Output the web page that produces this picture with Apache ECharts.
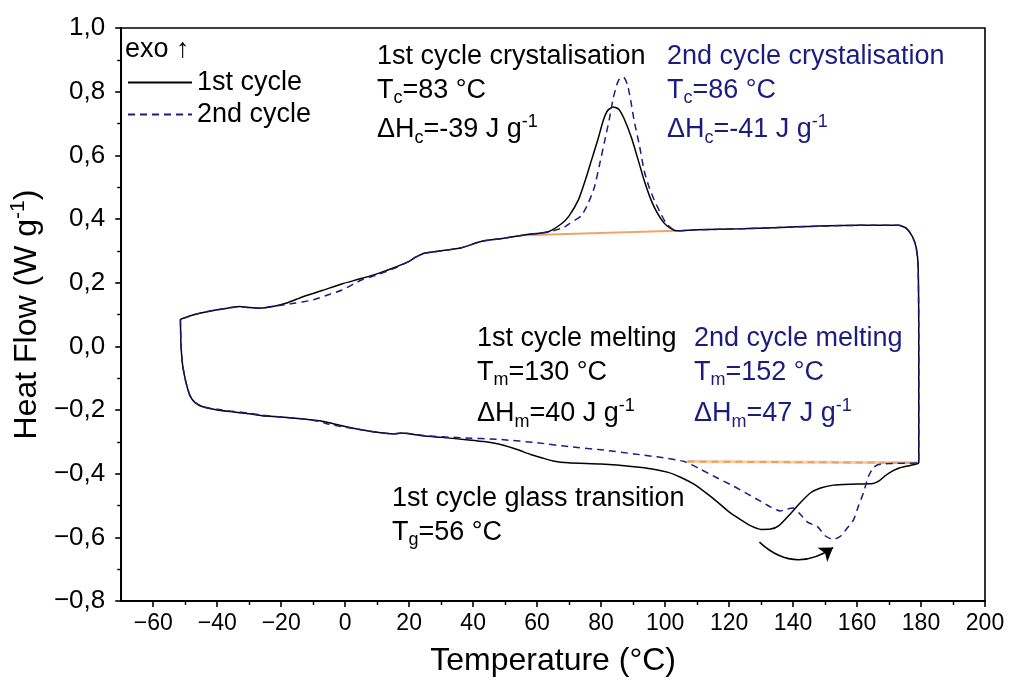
<!DOCTYPE html>
<html>
<head>
<meta charset="utf-8">
<script src="https://cdn.jsdelivr.net/npm/echarts@6/dist/echarts.min.js"></script>
<style>
html,body{margin:0;padding:0;background:#fff;}
#chart{width:1010px;height:689px;}
</style>
</head>
<body>
<div id="chart"></div>
<script>
// ---- data (Temperature °C, Heat Flow W/g) ----
const cycle1Heating = [
  [-51.5,0.085],[-51.3,0.0],[-50.8,-0.06],[-49.8,-0.112],[-48.5,-0.155],[-47,-0.176],[-44.5,-0.19],
  [-40,-0.2],[-36,-0.205],[-30,-0.212],[-26,-0.218],[-20,-0.222],[-13,-0.228],[-8,-0.234],
  [-5,-0.24],[0,-0.252],[5,-0.262],[10,-0.27],[15,-0.275],[17.8,-0.272],[25,-0.282],[30,-0.286],
  [38.6,-0.294],[44,-0.3],[48.9,-0.309],[54,-0.325],[58,-0.34],[61.4,-0.35],[65,-0.36],[69.8,-0.366],
  [80,-0.37],[90.3,-0.378],[96,-0.385],[101,-0.396],[105,-0.412],[109,-0.433],[113,-0.462],
  [116.5,-0.49],[120,-0.52],[123.7,-0.545],[127,-0.565],[130,-0.575],[133,-0.574],[135.5,-0.564],
  [139,-0.528],[142.4,-0.49],[145.5,-0.46],[148.6,-0.445],[152.6,-0.436],[158,-0.433],[165,-0.431],
  [167,-0.422],[169,-0.405],[171,-0.392],[173,-0.383],[175.7,-0.376],[178,-0.371],[179.3,-0.366]
];
const cycle1Cooling = [
  [179.3,-0.366],[179.3,0.0],[179.1,0.25],[178.5,0.31],[177.3,0.345],[175.5,0.37],[173,0.38],
  [160,0.38],[140,0.375],[123.7,0.369],[110,0.366],[103.4,0.363],[101.5,0.372],[99.7,0.387],[97.5,0.42],
  [95.6,0.46],[93.5,0.52],[91.6,0.585],[89.5,0.655],[87.2,0.715],[85.5,0.745],[83.8,0.752],
  [82,0.74],[80.7,0.71],[79,0.65],[77,0.585],[75,0.52],[72.9,0.46],[70,0.41],[67.6,0.385],
  [63.5,0.36],[56,0.35],[50,0.34],[42.7,0.33],[36.4,0.31],[30,0.3],[25,0.293],[22,0.28],[20,0.267],
  [15,0.246],[10.6,0.23],[5,0.213],[-1,0.196],[-7,0.176],[-13.4,0.155],[-18,0.137],[-21.8,0.127],
  [-26.8,0.12],[-30,0.122],[-33,0.125],[-38,0.118],[-43.6,0.108],[-47,0.1],[-51.5,0.085]
];
const cycle2Heating = [
  [-51.5,0.085],[-51.3,0.0],[-50.8,-0.06],[-49.8,-0.112],[-48.5,-0.155],[-47,-0.176],[-44.5,-0.19],
  [-40,-0.198],[-36,-0.203],[-30,-0.21],[-26,-0.216],[-20,-0.222],[-13,-0.228],[-8,-0.236],
  [-5,-0.245],[0,-0.254],[5,-0.262],[10,-0.27],[15,-0.275],[17.8,-0.272],[25,-0.281],[36,-0.287],
  [48.9,-0.293],[60,-0.303],[69.8,-0.315],[80,-0.325],[90.3,-0.338],[98,-0.348],[106,-0.362],
  [111.2,-0.387],[116,-0.412],[121.5,-0.44],[126,-0.465],[129.9,-0.487],[133,-0.505],[136,-0.517],
  [138,-0.512],[140,-0.508],[142,-0.525],[144.5,-0.552],[147.7,-0.567],[150,-0.595],[152.6,-0.607],
  [155,-0.595],[157,-0.57],[158.9,-0.545],[160.5,-0.5],[162,-0.46],[163.5,-0.41],[165,-0.382],
  [166.5,-0.372],[170,-0.368],[179.3,-0.366]
];
const cycle2Cooling = [
  [179.3,-0.366],[179.3,0.0],[179.1,0.25],[178.5,0.31],[177.3,0.345],[175.5,0.37],[173,0.38],
  [160,0.38],[140,0.375],[123.7,0.369],[110,0.366],[103.4,0.363],[101.8,0.372],[100.3,0.387],
  [98.5,0.42],[96.6,0.46],[95,0.5],[93.5,0.55],[92,0.63],[90.3,0.71],[89.3,0.77],[88.3,0.82],
  [87.3,0.843],[86.3,0.846],[85.2,0.83],[83.8,0.78],[82.5,0.71],[81,0.64],[79.5,0.57],[77.9,0.5],
  [76,0.45],[73.8,0.41],[70,0.385],[68.5,0.374],[64,0.36],[56,0.35],[50,0.34],[42.7,0.33],
  [36.4,0.31],[30,0.3],[25,0.293],[22,0.28],[20,0.267],[15.6,0.246],[10,0.225],[5.3,0.209],
  [-1,0.177],[-5,0.163],[-10,0.146],[-16,0.135],[-21.8,0.127],[-26.8,0.12],[-30,0.122],[-33,0.125],
  [-38,0.118],[-43.6,0.108],[-47,0.1],[-51.5,0.085]
];
const crystBaseline = [[56,0.349],[103.4,0.363]];
const meltBaseline = [[107,-0.362],[179.3,-0.366]];
const shiftArrow = [[129.5,-0.615],[152.5,-0.632]];

const xRange = {min:-70, max:200};
const xMajorTicks = [-60,-40,-20,0,20,40,60,80,100,120,140,160,180,200];
const xMinorTicks = [-50,-30,-10,10,30,50,70,90,110,130,150,170,190];
const yTicks = {min:-0.8, max:1.0, interval:0.2};
const seriesNames = ['1st cycle','2nd cycle'];

const NAVY = '#1c1c80';
const FONT = 'Liberation Sans, Arial, sans-serif';

const chart = echarts.init(document.getElementById('chart'), null, {renderer:'canvas'});

function fmtY(v){
  const s = Math.abs(v) < 1e-9 ? '0,0' : v.toFixed(1).replace('.', ',');
  return s.replace('-', '\u2212');
}
function fmtX(v){ return String(v).replace('-', '\u2212'); }

const rich = (color) => ({
  n:{fontSize:27, fontFamily:FONT, color:color, lineHeight:34, verticalAlign:'middle'},
  sub:{fontSize:18, fontFamily:FONT, color:color, lineHeight:18, verticalAlign:'bottom'},
  sup:{fontSize:18, fontFamily:FONT, color:color, lineHeight:18, verticalAlign:'top'}
});
function label(x, cy, str, color){
  return {type:'text', left:x, top:cy - 13, z:100,
    style:{text:str, rich:rich(color), fill:color, font:'27px ' + FONT}};
}

const axisCommon = {
  type:'value', min:xRange.min, max:xRange.max,
  splitLine:{show:false}, gridIndex:0
};

const option = {
  animation:false,
  backgroundColor:'#fff',
  textStyle:{fontFamily:FONT},
  grid:{left:118, right:25, top:28, bottom:88, show:true, borderColor:'#000', borderWidth:1.6, backgroundColor:'transparent'},
  legend:{
    data:seriesNames, orient:'vertical', left:122, top:64, itemWidth:64, itemHeight:14, itemGap:5,
    itemStyle:{opacity:0},
    textStyle:{fontSize:27, fontFamily:FONT, color:'#000'}
  },
  xAxis:[
    Object.assign({}, axisCommon, {
      position:'bottom',
      name:'Temperature (°C)', nameLocation:'middle', nameGap:44,
      nameTextStyle:{fontSize:32, fontFamily:FONT, color:'#000'},
      axisLine:{show:true, onZero:false, lineStyle:{color:'#000', width:2}},
      axisTick:{show:true, length:6, customValues:xMajorTicks, lineStyle:{color:'#000', width:1.6}},
      axisLabel:{fontSize:23, fontFamily:FONT, color:'#000', margin:11, formatter:fmtX, customValues:xMajorTicks}
    }),
    Object.assign({}, axisCommon, {
      position:'bottom',
      axisLine:{show:false, onZero:false},
      axisTick:{show:true, length:4, customValues:xMinorTicks, lineStyle:{color:'#000', width:1.4}},
      axisLabel:{show:false}
    })
  ],
  yAxis:{
    type:'value', min:yTicks.min, max:yTicks.max, interval:yTicks.interval,
    name:'{a|Heat Flow (W g}{s|-1}{a|)}', nameLocation:'middle', nameGap:64, nameRotate:90,
    nameTextStyle:{rich:{
      a:{fontSize:32, fontFamily:FONT, color:'#000', lineHeight:38, verticalAlign:'middle'},
      s:{fontSize:21, fontFamily:FONT, color:'#000', lineHeight:21, verticalAlign:'top'}
    }},
    axisLine:{show:true, onZero:false, lineStyle:{color:'#000', width:2}},
    axisTick:{show:true, length:6, lineStyle:{color:'#000', width:1.6}},
    minorTick:{show:true, splitNumber:2, length:4, lineStyle:{color:'#000', width:1.4}},
    splitLine:{show:false},
    axisLabel:{fontSize:26, fontFamily:FONT, color:'#000', margin:16, formatter:fmtY}
  },
  series:[
    {name:'crystBaseline', type:'line', data:crystBaseline, symbol:'none', silent:true,
      lineStyle:{color:'#f0a468', width:2}, z:1},
    {name:'meltBaselineA', type:'line', data:meltBaseline, symbol:'none', silent:true,
      lineStyle:{color:'#f6cfa2', width:3}, z:1},
    {name:'meltBaselineB', type:'line', data:meltBaseline, symbol:'none', silent:true,
      lineStyle:{color:'#e4a266', width:2, type:[7,5]}, z:1},
    {name:'1st cycle', type:'line', data:cycle1Heating.concat(cycle1Cooling.slice(1)), symbol:'none',
      smooth:0.2, lineStyle:{color:'#000', width:1.5}, itemStyle:{color:'#000'}, z:3},
    {name:'2nd cycle', type:'line', data:cycle2Heating.concat(cycle2Cooling.slice(1)), symbol:'none',
      smooth:0.2, lineStyle:{color:NAVY, width:1.5, type:[7,5]}, itemStyle:{color:NAVY}, z:4},
    {name:'arrow', type:'lines', coordinateSystem:'cartesian2d', silent:true,
      data:[{coords:shiftArrow}], symbol:['none','arrow'], symbolSize:[0,13],
      lineStyle:{color:'#000', width:1.5, curveness:-0.4, opacity:1}, z:5}
  ],
  graphic:[
    {type:'text', left:125, top:36, z:100, style:{text:'exo \u2191', font:'27px ' + FONT, fill:'#000'}},
    label(377, 56, '{n|1st cycle crystalisation}', '#000'),
    label(377, 90, '{n|T}{sub|c}{n|=83 °C}', '#000'),
    label(377, 126, '{n|\u0394H}{sub|c}{n|=-39 J g}{sup|-1}', '#000'),
    label(667, 56, '{n|2nd cycle crystalisation}', NAVY),
    label(667, 90, '{n|T}{sub|c}{n|=86 °C}', NAVY),
    label(667, 126, '{n|\u0394H}{sub|c}{n|=-41 J g}{sup|-1}', NAVY),
    label(477, 338, '{n|1st cycle melting}', '#000'),
    label(477, 372, '{n|T}{sub|m}{n|=130 °C}', '#000'),
    label(477, 410, '{n|\u0394H}{sub|m}{n|=40 J g}{sup|-1}', '#000'),
    label(694, 338, '{n|2nd cycle melting}', NAVY),
    label(694, 372, '{n|T}{sub|m}{n|=152 °C}', NAVY),
    label(694, 410, '{n|\u0394H}{sub|m}{n|=47 J g}{sup|-1}', NAVY),
    label(392, 498, '{n|1st cycle glass transition}', '#000'),
    label(392, 532, '{n|T}{sub|g}{n|=56 °C}', '#000')
  ]
};
chart.setOption(option);
</script>
</body>
</html>
